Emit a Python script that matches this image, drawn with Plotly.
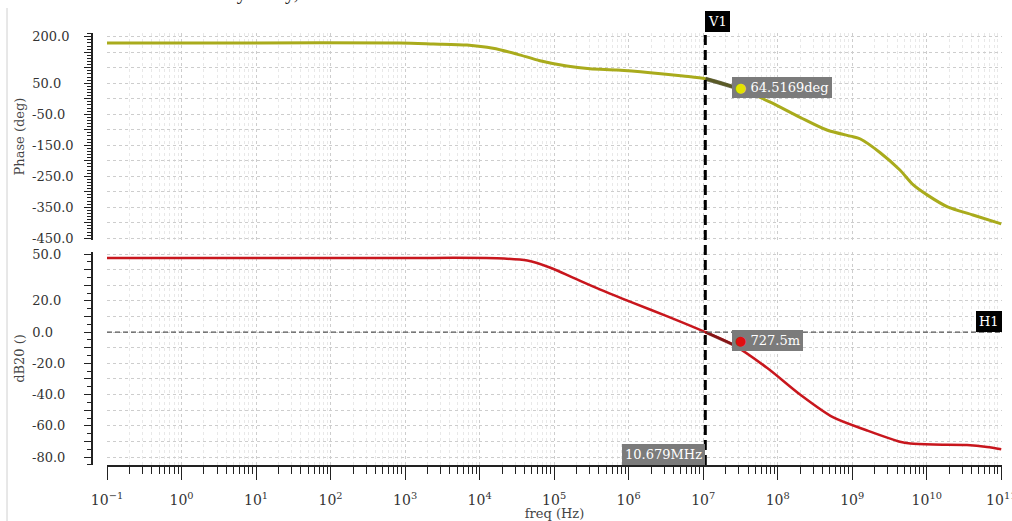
import numpy as np
import plotly.graph_objects as go

# ---------------- data ----------------
# Phase curve: decade exponent of frequency and phase in degrees
phase_log_freq = [-1, 1.0, 2.93, 3.38, 3.83, 4.18, 4.50, 4.81, 5.17, 5.48, 5.85, 6.29, 6.73,
                  7.03, 7.23, 7.51, 7.90, 8.30, 8.66, 9.01, 9.11, 9.38, 9.64, 9.82,
                  10.01, 10.28, 10.62, 11.0]
phase_deg = [180, 180, 179.5, 176.5, 173, 162.6, 144, 122.6, 105.5, 96.8, 92.6, 84, 73.3,
             64.5, 50.6, 30, -11, -60, -101, -122.6, -130, -175, -230, -278,
             -311, -349, -375, -404]

# Magnitude curve: decade exponent of frequency and dB20
db_log_freq = [-1, 1.0, 3.0, 4.23, 4.64, 4.95, 5.26, 5.62, 6.06, 6.52, 7.03, 7.40, 7.86, 8.30,
               8.74, 9.20, 9.64, 9.78, 10.09, 10.54, 10.81, 11.0]
db_val = [47.5, 47.5, 47.5, 47.3, 45.8, 41.2, 34.7, 27.2, 18.7, 10.1, 0, -8, -23, -40,
          -54.5, -63, -70.2, -71.3, -72.0, -72.3, -73.5, -75.0]

phase_freq = [10 ** v for v in phase_log_freq]
db_freq = [10 ** v for v in db_log_freq]

# Tick labels
freq_decades = list(range(-1, 12))
phase_tick_vals = list(range(-450, 201, 50))
phase_tick_labels = [200, 50, -50, -150, -250, -350, -450]
db_tick_vals = list(range(-80, 51, 10))
db_tick_labels = [50, 20, 0, -20, -40, -60, -80]

# Markers / cursors
V1_FREQ = 10.679e6
V1_TEXT = "10.679MHz"
MARKER_FREQ = 2.45e7
PHASE_MARKER_VAL = 37.7
PHASE_MARKER_TEXT = "64.5169deg"
DB_MARKER_VAL = -5.1
DB_MARKER_TEXT = "727.5m"

# ---------------- styling ----------------
FONT = "DejaVu Serif"
PHASE_COLOR = "#a9ab1c"
DB_COLOR = "#c8161d"
GRID = "#cdcdcd"
GRID_MINOR = "#e8e8e8"
AXC = "#222222"

W, H = 1012, 521
ML, MR, MT, MB = 90, 10, 33, 56
PW = W - ML - MR
PH = H - MT - MB
X0 = 17 / PW           # start of plotting region (x domain)
YPOS = 2 / PW          # y-axis ruler position

def py(pix):  # pixel y -> paper fraction
    return (H - MB - pix) / PH

def px(pix):  # pixel x -> paper fraction
    return (pix - ML) / PW

def left_aligned(v):
    """Format a y tick label, padded with fixed-width spaces so labels line up on the left."""
    s = f"{v:.1f}"
    digits = sum(c.isdigit() for c in s)
    pad = "\u2007" * (4 - digits) + ("" if s.startswith("-") else "\u2008")
    return s + pad

fig = go.Figure()

fig.add_trace(go.Scatter(x=phase_freq, y=phase_deg, mode="lines",
                         line=dict(color=PHASE_COLOR, width=3, shape="spline", smoothing=0.8),
                         xaxis="x2", yaxis="y", hoverinfo="skip"))
# highlighted segment near the marker
hl = [i for i, v in enumerate(phase_log_freq) if 7.0 <= v <= 7.55]
fig.add_trace(go.Scatter(x=[phase_freq[i] for i in hl], y=[phase_deg[i] for i in hl], mode="lines",
                         line=dict(color="rgba(70,70,40,0.8)", width=4, shape="spline", smoothing=0.8),
                         xaxis="x2", yaxis="y", hoverinfo="skip"))

fig.add_trace(go.Scatter(x=db_freq, y=db_val, mode="lines",
                         line=dict(color=DB_COLOR, width=2.5, shape="spline", smoothing=0.8),
                         xaxis="x", yaxis="y2", hoverinfo="skip"))
hl2 = [i for i, v in enumerate(db_log_freq) if 7.0 <= v <= 7.45]
fig.add_trace(go.Scatter(x=[db_freq[i] for i in hl2], y=[db_val[i] for i in hl2], mode="lines",
                         line=dict(color="rgba(120,20,20,0.85)", width=3, shape="spline"),
                         xaxis="x", yaxis="y2", hoverinfo="skip"))

xcommon = dict(type="log", domain=[X0, 1], range=[-1, 11.01], automargin=False,
               tickmode="array", tickvals=[10 ** k for k in freq_decades],
               showgrid=True, gridcolor=GRID, griddash="dot", gridwidth=1, zeroline=False)

fig.update_layout(
    width=W, height=H,
    margin=dict(l=ML, r=MR, t=MT, b=MB),
    paper_bgcolor="white", plot_bgcolor="white",
    showlegend=False,
    font=dict(family=FONT, size=13, color="#333"),
    xaxis=dict(**xcommon, anchor="y2",
               ticktext=[f"10<sup>{k if k >= 0 else '−' + str(-k)}</sup>" for k in freq_decades],
               ticklabeloverflow="allow", ticklabelstandoff=8,
               showline=True, linecolor=AXC, linewidth=1.5,
               ticks="outside", ticklen=13, tickwidth=1.3, tickcolor=AXC,
               tickfont=dict(family=FONT, size=14, color="#333"),
               minor=dict(dtick="D1", ticks="outside", ticklen=7, tickcolor=AXC, tickwidth=1.2,
                          showgrid=True, gridcolor=GRID_MINOR, griddash="dot"),
               title=dict(text="freq (Hz)", standoff=1, font=dict(family=FONT, size=13, color="#444"))),
    xaxis2=dict(**xcommon, anchor="y", matches="x", showticklabels=False, ticks="",
                showline=False,
                minor=dict(dtick="D1", ticks="", showgrid=True, gridcolor=GRID_MINOR, griddash="dot")),
    yaxis=dict(domain=[py(240), 1], range=[-455.8, 212], anchor="free", position=YPOS,
               automargin=False,
               tickmode="array", tickvals=phase_tick_vals,
               ticktext=[left_aligned(v) if v in phase_tick_labels else "" for v in phase_tick_vals],
               ticks="outside", ticklen=7, tickcolor=AXC, tickwidth=1.2,
               minor=dict(dtick=10, tick0=0, ticks="outside", ticklen=4, tickcolor=AXC, showgrid=False),
               showline=True, linecolor=AXC, linewidth=1.5,
               showgrid=True, gridcolor=GRID, griddash="dot", zeroline=False,
               ticklabelstandoff=8,
               tickfont=dict(family=FONT, size=13, color="#333"),
               title=dict(text="Phase (deg)", standoff=3, font=dict(family=FONT, size=13, color="#444"))),
    yaxis2=dict(domain=[0, py(252)], range=[-85.1, 51.3], anchor="free", position=YPOS,
                automargin=False,
                tickmode="array", tickvals=db_tick_vals,
                ticktext=[left_aligned(v) if v in db_tick_labels else "" for v in db_tick_vals],
                ticks="outside", ticklen=7, tickcolor=AXC, tickwidth=1.2,
                minor=dict(dtick=5, tick0=0, ticks="outside", ticklen=4, tickcolor=AXC, showgrid=False),
                showline=True, linecolor=AXC, linewidth=1.5,
                showgrid=True, gridcolor=GRID, griddash="dot", zeroline=False,
                ticklabelstandoff=8,
                tickfont=dict(family=FONT, size=13, color="#333"),
                title=dict(text="dB20 ()", standoff=3, font=dict(family=FONT, size=13, color="#444"))),
)

# cursors
fig.add_shape(type="line", xref="x", yref="paper", x0=V1_FREQ, x1=V1_FREQ, y0=0, y1=py(31),
              line=dict(color="black", width=3, dash="10px,5px"))
fig.add_shape(type="line", xref="paper", yref="y2", x0=X0, x1=1, y0=0, y1=0,
              line=dict(color="#555", width=1.3, dash="5px,3px"))
# left frame line
fig.add_shape(type="line", xref="paper", yref="paper", x0=px(7), x1=px(7), y0=py(8), y1=py(521),
              line=dict(color="#d0d0d0", width=1))

lab = dict(showarrow=False, font=dict(family=FONT, size=13, color="white"), borderpad=3, borderwidth=0)
fig.add_annotation(text="V1", xref="x", yref="paper", x=np.log10(V1_FREQ), y=py(21),
                   xanchor="left", yanchor="middle", bgcolor="black", **lab)
fig.add_annotation(text="H1", xref="paper", yref="y2", x=1, y=0,
                   xanchor="right", yanchor="bottom", bgcolor="black", **lab)
fig.add_annotation(text=V1_TEXT, xref="x", yref="paper", x=np.log10(V1_FREQ), y=0,
                   xanchor="right", yanchor="bottom", bgcolor="#7b7b7b", **lab)
fig.add_annotation(text=f"<span style='color:#e4e400'>●</span> {PHASE_MARKER_TEXT}",
                   xref="x2", yref="y", x=np.log10(MARKER_FREQ), y=PHASE_MARKER_VAL,
                   xanchor="left", yanchor="middle", bgcolor="#7b7b7b", **lab)
fig.add_annotation(text=f"<span style='color:#e01010'>●</span> {DB_MARKER_TEXT}",
                   xref="x", yref="y2", x=np.log10(MARKER_FREQ), y=DB_MARKER_VAL,
                   xanchor="left", yanchor="middle", bgcolor="#7b7b7b", **lab)

# clipped line of body text above the chart
fig.add_annotation(text="In order to do a stability study, we will use STB.",
                   xref="paper", yref="paper", x=px(52), y=py(6),
                   xanchor="left", yanchor="bottom", showarrow=False,
                   font=dict(family="Liberation Serif", size=20, color="#222"))

fig.write_html("out.html")
